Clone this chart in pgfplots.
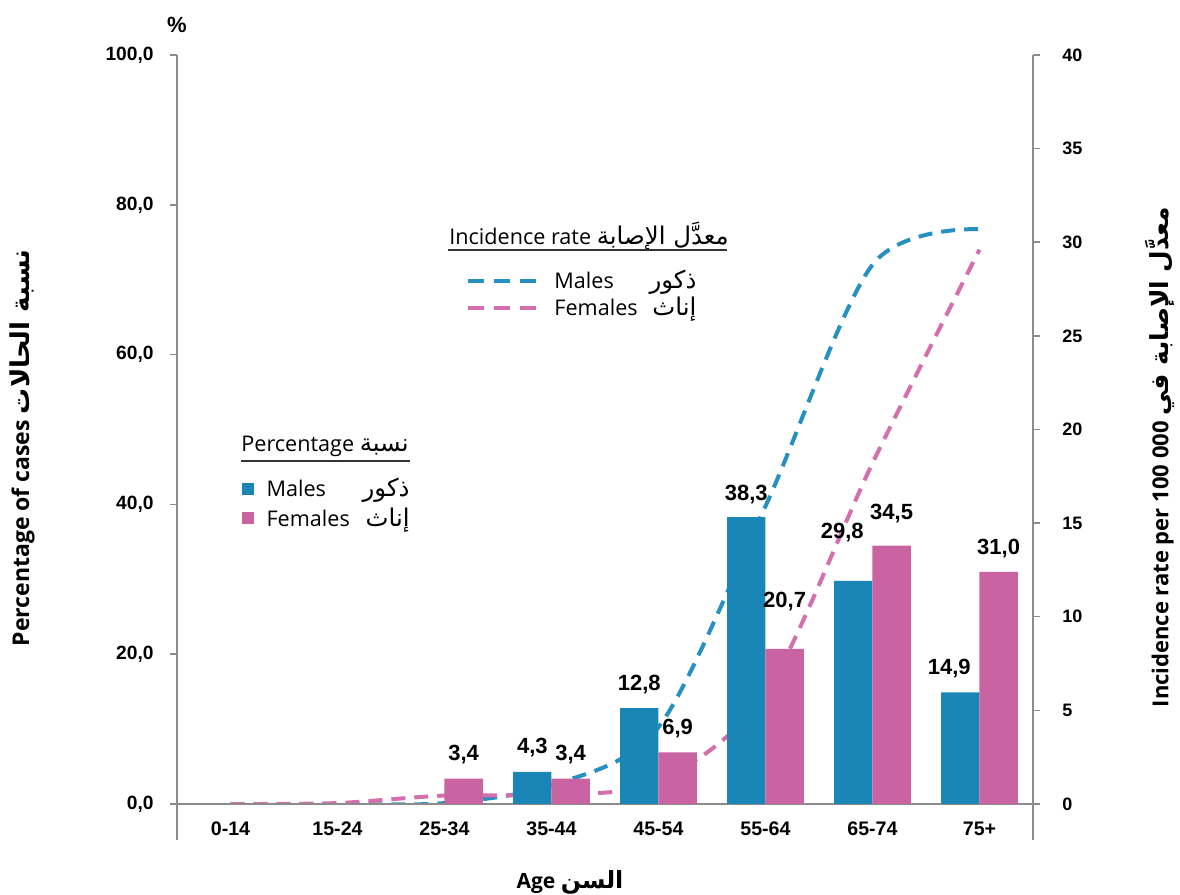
\documentclass[border=0pt]{standalone}
\usepackage{fontspec}
\usepackage{pgfplots}
\pgfplotsset{compat=1.18}
\usepackage{pgfplotstable}
\setmainfont{Open Sans}
\newfontfamily\arialfont{Liberation Sans}
\newfontfamily\arabicfont[Script=Arabic, Scale=1.13]{DejaVu Sans}
\TeXXeTstate=1
\definecolor{mblue}{RGB}{26,134,184}
\definecolor{fpink}{RGB}{202,99,161}
\definecolor{lblue}{RGB}{38,144,194}
\definecolor{lpink}{RGB}{212,110,172}
\definecolor{axgray}{RGB}{140,140,140}
\newcommand{\AR}[1]{{\arabicfont\beginR #1\endR}}

\pgfplotstableread{
x y dx dy
3 4.3 0 12
4 12.8 0 12
5 38.3 0 11.5
6 29.8 -5.5 24
7 14.9 -5.5 12
}\males
\pgfplotstableread{
x y dx dy
2 3.4 0 12
3 3.4 0 12
4 6.9 0 12
5 20.7 0 23.5
6 34.5 0 16
7 31.0 0 11.5
}\females
\pgfplotstableread{
x m f
0 0 0
1 0 0.05
2 0.05 0.45
3 1.0 0.5
4 4.1 1.2
5 15.9 5.9
6 28.8 18.2
7 30.7 29.6
}\rates

\begin{document}
\begin{tikzpicture}
\useasboundingbox (-88.5pt,-45.5pt) rectangle (501.5pt,402pt);
% ---------- incidence rate axis (right) ----------
\begin{axis}[
  at={(0,0)}, anchor=south west,
  scale only axis, width=428pt, height=374.5pt,
  xmin=-0.5, xmax=7.5, ymin=0, ymax=40,
  axis x line=none, axis y line*=right,
  axis line style={draw=axgray, line width=0.75pt, -},
  ytick={0,5,...,40},
  ytick style={draw=axgray, line width=0.75pt},
  tick align=outside, major tick length=3.5pt,
  /pgf/number format/assume math mode=true,
  yticklabel style={font=\arialfont\bfseries\fontsize{9}{10}\selectfont, anchor=west, inner sep=0pt, xshift=11pt},
  legend style={at={(rel axis cs:0.3377,0.719)}, anchor=north west, draw=none, fill=none,
    font=\fontsize{10.8}{12}\selectfont, row sep=-1pt, inner sep=0pt, cells={anchor=west},
    /tikz/every odd column/.append style={column sep=6pt}},
  legend cell align=left,
]
\addplot[lblue, line width=2pt, dash pattern=on 7pt off 4.5pt, smooth,
  legend image code/.code={\draw[lblue, line width=2pt, dash pattern=on 8pt off 5pt] (0pt,0pt) -- (34pt,0pt);}]
  table[x=x,y=m]{\rates};
\addlegendentry{\makebox[71pt][l]{Males\hfill\AR{ذكور}}}
\addplot[lpink, line width=2pt, dash pattern=on 7pt off 4.5pt, smooth,
  legend image code/.code={\draw[lpink, line width=2pt, dash pattern=on 8pt off 5pt] (0pt,0pt) -- (34pt,0pt);}]
  table[x=x,y=f]{\rates};
\addlegendentry{\makebox[71pt][l]{Females\hfill\AR{إناث}}}
\end{axis}
% ---------- percentage axis (left, bars) ----------
\begin{axis}[
  at={(0,0)}, anchor=south west,
  scale only axis, width=428pt, height=374.5pt,
  xmin=-0.5, xmax=7.5, ymin=0, ymax=100,
  axis y line*=left, axis x line*=bottom,
  axis line style={draw=axgray, line width=0.75pt, -},
  xtick={0,...,7},
  xticklabels={0-14,15-24,25-34,35-44,45-54,55-64,65-74,75+},
  xtick style={draw=none},
  xticklabel style={font=\arialfont\bfseries\fontsize{9.8}{11}\selectfont, anchor=center, yshift=-9pt},
  ytick={0,20,...,100},
  ytick style={draw=axgray, line width=0.75pt},
  tick align=outside, major tick length=3.5pt,
  /pgf/number format/.cd, fixed, fixed zerofill, precision=1, use comma, 1000 sep={}, assume math mode=true,
  /pgfplots/.cd,
  yticklabel style={font=\arialfont\bfseries\fontsize{9.6}{11}\selectfont, anchor=east, inner sep=0pt, xshift=-8pt},
  legend style={at={(rel axis cs:0.075,0.441)}, anchor=north west, draw=none, fill=none,
    font=\fontsize{10.8}{12}\selectfont, row sep=0pt, inner sep=0pt, cells={anchor=west},
    /tikz/every odd column/.append style={column sep=4.5pt}},
  legend cell align=left,
  nodes near coords={\pgfmathprintnumber[fixed,fixed zerofill,precision=1,use comma,assume math mode=true]{\pgfplotspointmeta}},
]
\addplot[ybar, bar width=0.358, bar shift=-0.179, fill=mblue, draw=none,
  visualization depends on={\thisrow{dx} \as \dx},
  visualization depends on={\thisrow{dy} \as \dy},
  nodes near coords style={anchor=center, xshift=\dx pt, xshift=-9.58pt, yshift=\dy pt, font=\arialfont\bfseries\fontsize{11}{13}\selectfont, text=black},
  legend image code/.code={\fill[mblue] (0pt,-3pt) rectangle (6pt,3pt);}]
  table[x=x,y=y]{\males};
\addlegendentry{\makebox[71.5pt][l]{Males\hfill\AR{ذكور}}}
\addplot[ybar, bar width=0.358, bar shift=0.179, fill=fpink, draw=none,
  visualization depends on={\thisrow{dx} \as \dx},
  visualization depends on={\thisrow{dy} \as \dy},
  nodes near coords style={anchor=center, xshift=\dx pt, xshift=9.58pt, yshift=\dy pt, font=\arialfont\bfseries\fontsize{11}{13}\selectfont, text=black},
  legend image code/.code={\fill[fpink] (0pt,-3pt) rectangle (6pt,3pt);}]
  table[x=x,y=y]{\females};
\addlegendentry{\makebox[71.5pt][l]{Females\hfill\AR{إناث}}}
\end{axis}
% ---------- decorations ----------
\draw[axgray, line width=0.75pt] (0pt,0pt) -- (0pt,-18pt);
\draw[axgray, line width=0.75pt] (428pt,0pt) -- (428pt,-18pt);
\node[font=\arialfont\bfseries\fontsize{11}{13}\selectfont] at (0pt,389.5pt) {\%};
% legend titles
\node[anchor=west, inner sep=0pt, font=\fontsize{10.8}{12}\selectfont] at (32pt,179pt) {Percentage \AR{نسبة}};
\draw[black!80, line width=0.6pt] (32pt,171.5pt) -- (116.5pt,171.5pt);
\node[anchor=west, inner sep=0pt, font=\fontsize{10.8}{12}\selectfont] at (136pt,284pt) {Incidence rate \AR{معدَّل الإصابة}};
\draw[black!80, line width=0.6pt] (135.5pt,277pt) -- (275pt,277pt);
% axis titles
\node[rotate=90, font=\bfseries\fontsize{11.5}{13}\selectfont] at (-77.5pt,178pt) {Percentage of cases \AR{\bfseries نسبة الحالات}};
\node[rotate=90, font=\bfseries\fontsize{11}{13}\selectfont] at (491.5pt,173.5pt) {Incidence rate per 100 000 \AR{\bfseries معدَّل الإصابة في}};
\node[font=\bfseries\fontsize{10.5}{12}\selectfont] at (196.5pt,-39pt) {Age \AR{\bfseries السن}};
\end{tikzpicture}
\end{document}
